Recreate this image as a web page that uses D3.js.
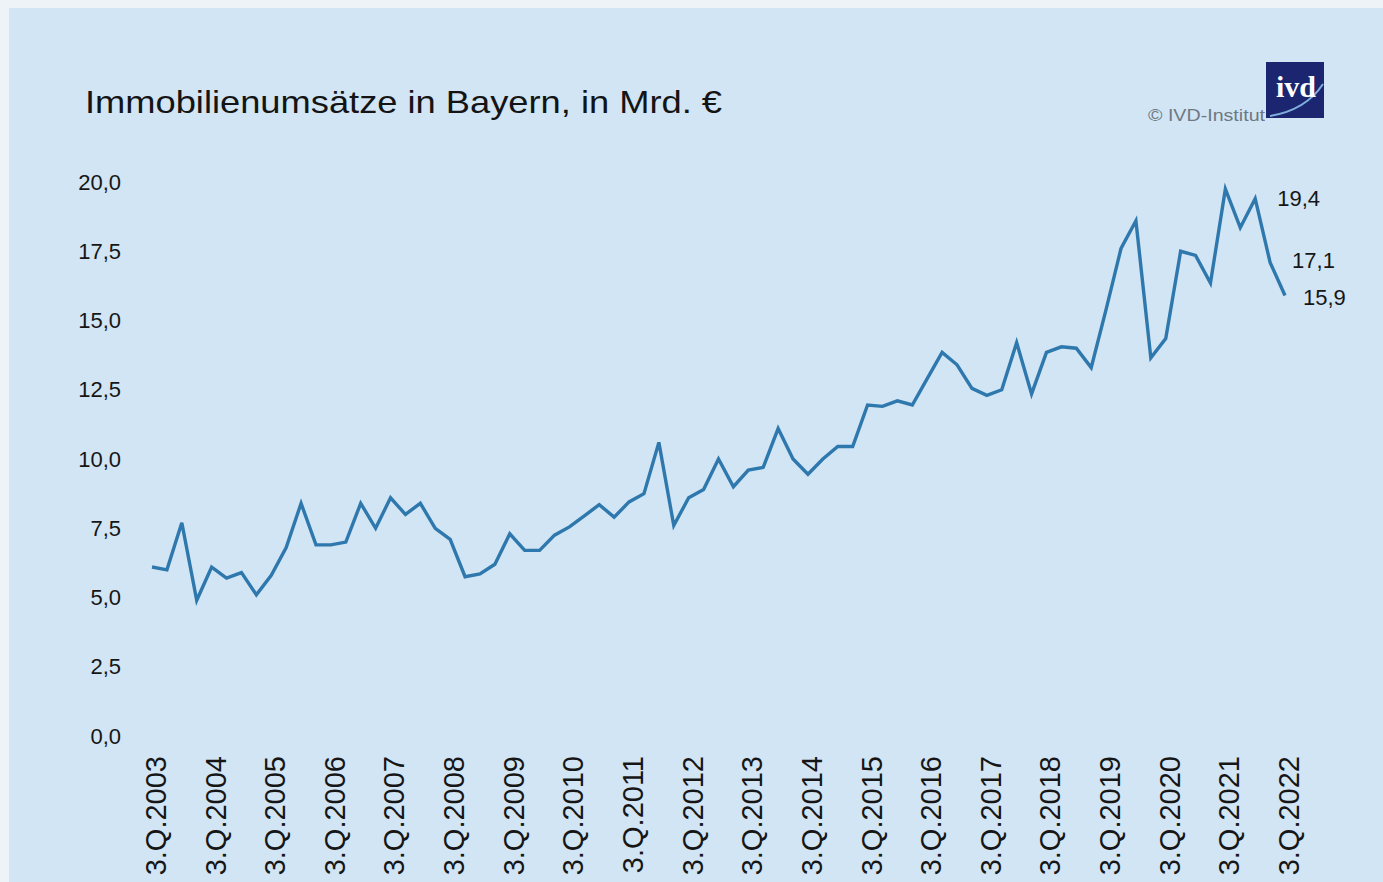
<!DOCTYPE html>
<html>
<head>
<meta charset="utf-8">
<script src="https://cdn.jsdelivr.net/npm/d3@7"></script>
<style>
  body { margin: 0; background: #eef3f8; }
  svg { display: block; font-family: "Liberation Sans", Arial, sans-serif; }
</style>
</head>
<body>
<div id="chart"></div>
<script>
// Quarterly property turnover in Bavaria, bn EUR (3.Q.2003 - 3.Q.2022)
const startYear = 2003;
const values = [
  6.1, 6.0, 7.7, 4.9, 6.1, 5.7, 5.9, 5.1, 5.8, 6.8,
  8.4, 6.9, 6.9, 7.0, 8.4, 7.5, 8.6, 8.0, 8.4, 7.5,
  7.1, 5.75, 5.85, 6.2, 7.3, 6.7, 6.7, 7.25, 7.55, 7.95,
  8.35, 7.9, 8.45, 8.75, 10.6, 7.6, 8.6, 8.9, 10.0, 9.0,
  9.6, 9.7, 11.1, 10.0, 9.45, 10.0, 10.45, 10.45, 11.95, 11.9,
  12.1, 11.95, 12.9, 13.85, 13.4, 12.55, 12.3, 12.5, 14.2, 12.35,
  13.85, 14.05, 14.0, 13.3, 15.4, 17.6, 18.6, 13.65, 14.35, 17.5,
  17.35, 16.35, 19.75, 18.35, 19.4, 17.1, 15.9
];
const tickLabels = [
  "3.Q.2003", "3.Q.2004", "3.Q.2005", "3.Q.2006", "3.Q.2007",
  "3.Q.2008", "3.Q.2009", "3.Q.2010", "3.Q.2011", "3.Q.2012",
  "3.Q.2013", "3.Q.2014", "3.Q.2015", "3.Q.2016", "3.Q.2017",
  "3.Q.2018", "3.Q.2019", "3.Q.2020", "3.Q.2021", "3.Q.2022"
];
const yTicks = [0, 2.5, 5, 7.5, 10, 12.5, 15, 17.5, 20];
const endLabels = ["19,4", "17,1", "15,9"];

// category names, one per quarter
const quarters = values.map((v, i) => {
  const q = (2 + i) % 4 + 1;
  const y = startYear + Math.floor((2 + i) / 4);
  return q + ".Q." + y;
});

const svgWidth = 1383;
const svgHeight = 882;

const svg = d3.select("#chart")
    .append("svg")
    .attr("width", svgWidth)
    .attr("height", svgHeight);

// light blue panel
svg.append("rect")
    .attr("x", 9)
    .attr("y", 8)
    .attr("width", svgWidth - 9)
    .attr("height", svgHeight - 8)
    .attr("fill", "#d1e5f5");

const de = d3.formatLocale({ decimal: ",", thousands: ".", grouping: [3], currency: ["", " €"] });
const fmt = de.format(".1f");

const x = d3.scalePoint()
    .domain(quarters)
    .range([152, 1285]);

const y = d3.scaleLinear()
    .domain([0, 20])
    .range([736, 182]);

// y axis labels
const yAxis = svg.append("g")
    .attr("transform", "translate(121,0)")
    .call(d3.axisLeft(y).tickValues(yTicks).tickFormat(fmt).tickSize(0).tickPadding(0));
yAxis.select(".domain").remove();
yAxis.selectAll("text")
    .attr("font-family", "Liberation Sans, Arial, sans-serif")
    .attr("font-size", 22)
    .attr("fill", "#161616");

// x axis labels, rotated
const xAxis = svg.append("g")
    .attr("transform", "translate(3,756)")
    .call(d3.axisBottom(x).tickValues(tickLabels).tickSize(0).tickPadding(0));
xAxis.select(".domain").remove();
xAxis.selectAll("text")
    .attr("font-family", "Liberation Sans, Arial, sans-serif")
    .attr("font-size", 29)
    .attr("fill", "#161616")
    .attr("text-anchor", "end")
    .attr("transform", "rotate(-90)")
    .attr("x", 0)
    .attr("y", 0)
    .attr("dx", 0)
    .attr("dy", "0.36em");

// the line
const line = d3.line()
    .x((d, i) => x(quarters[i]))
    .y(d => y(d));

svg.append("path")
    .datum(values)
    .attr("fill", "none")
    .attr("stroke", "#2e78ad")
    .attr("stroke-width", 3.4)
    .attr("stroke-linejoin", "miter")
    .attr("d", line);

// labels for the last three quarters
const n = values.length;
const endOffsets = [[22, 0], [22, -2], [18, 2]];
endLabels.forEach((t, k) => {
    const i = n - 3 + k;
    svg.append("text")
        .attr("x", x(quarters[i]) + endOffsets[k][0])
        .attr("y", y(values[i]) + endOffsets[k][1])
        .attr("dy", "0.35em")
        .attr("font-size", 22)
        .attr("fill", "#161616")
        .text(t);
});

// title
svg.append("text")
    .attr("x", 85)
    .attr("y", 113)
    .attr("font-size", 32)
    .attr("textLength", 637)
    .attr("lengthAdjust", "spacingAndGlyphs")
    .attr("fill", "#141414")
    .text("Immobilienumsätze in Bayern, in Mrd. €");

// ivd logo
const logo = svg.append("g").attr("transform", "translate(1266,62)");
logo.append("rect")
    .attr("width", 58)
    .attr("height", 56)
    .attr("fill", "#1c2670");
logo.append("path")
    .attr("d", "M4,54 Q40,48 57,22")
    .attr("fill", "none")
    .attr("stroke", "#7fb0dc")
    .attr("stroke-width", 2);
logo.append("text")
    .attr("x", 30)
    .attr("y", 35)
    .attr("text-anchor", "middle")
    .attr("font-family", "Liberation Serif, serif")
    .attr("font-weight", "bold")
    .attr("font-size", 30)
    .attr("fill", "#ffffff")
    .text("ivd");

svg.append("text")
    .attr("x", 1148)
    .attr("y", 121)
    .attr("font-size", 17)
    .attr("textLength", 117)
    .attr("lengthAdjust", "spacingAndGlyphs")
    .attr("fill", "#6e7882")
    .text("© IVD-Institut");
</script>
</body>
</html>
